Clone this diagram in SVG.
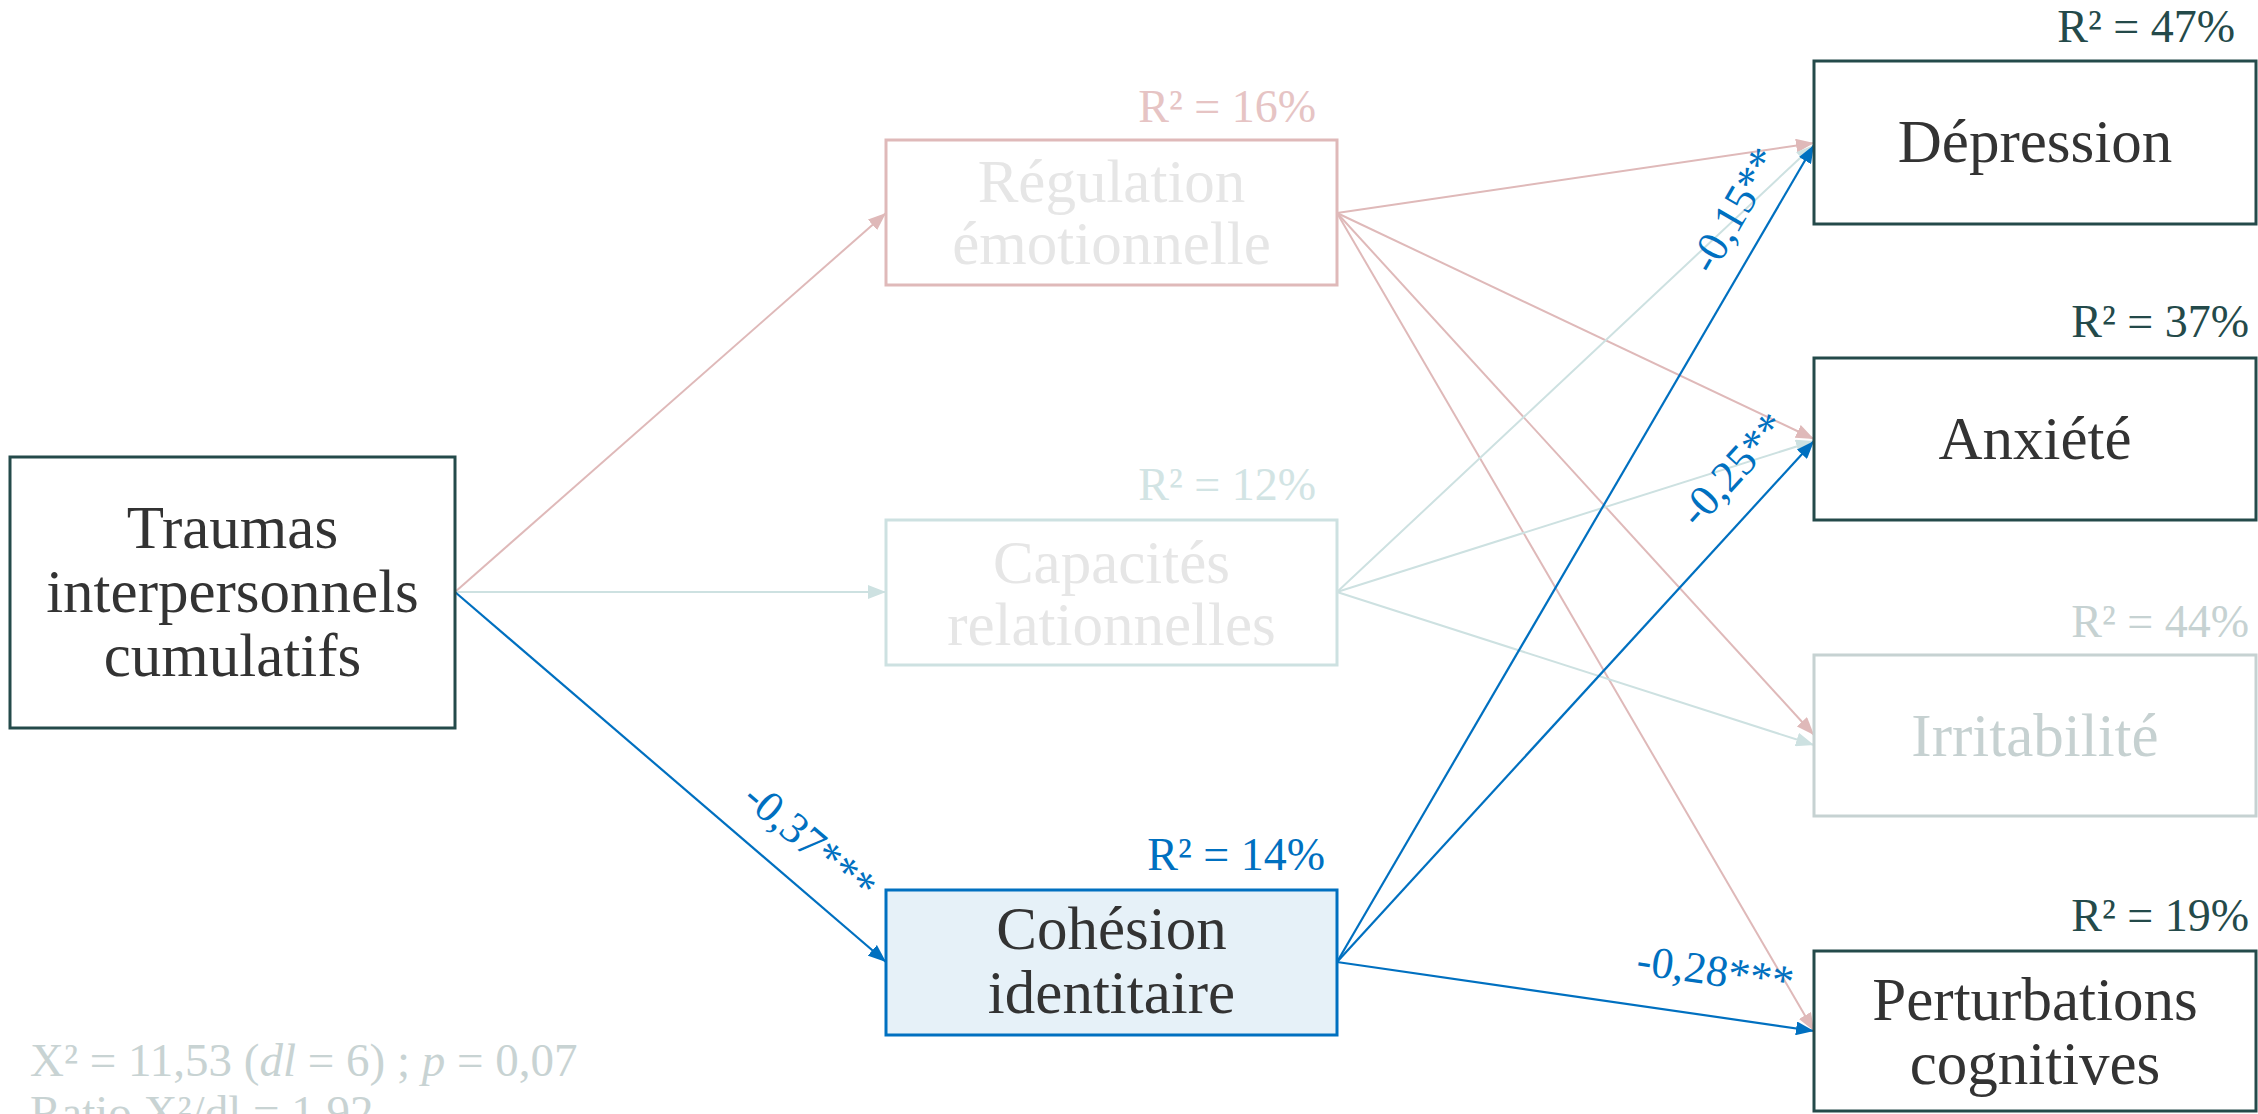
<svg xmlns="http://www.w3.org/2000/svg" width="2258" height="1114" viewBox="0 0 2258 1114">
<style>
text{font-family:"Liberation Serif","Times New Roman",serif;}
.nt{font-size:61px;fill:#333333;text-anchor:middle;}
.ft{font-size:61px;fill:#e6e6e6;text-anchor:middle;}
.it{font-size:61px;fill:#c6d1d1;text-anchor:middle;}
.r2{font-size:46px;text-anchor:end;}
.box{fill:#ffffff;stroke:#244a4a;stroke-width:3;}
.lp{stroke:#dfb9b9;stroke-width:2;fill:none;marker-end:url(#ap);}
.lt{stroke:#cde1e1;stroke-width:2;fill:none;marker-end:url(#at);}
.lb{stroke:#0070c0;stroke-width:2.2;fill:none;marker-end:url(#ab);}
.coef{font-size:44px;fill:#0070c0;text-anchor:middle;}
.fit{font-size:47px;fill:#c8d3d3;}
</style>
<defs>
<marker id="ap" markerUnits="userSpaceOnUse" markerWidth="18" markerHeight="14" refX="18" refY="7" orient="auto"><path d="M0,0 L18,7 L0,14 z" fill="#dfb9b9"/></marker>
<marker id="at" markerUnits="userSpaceOnUse" markerWidth="18" markerHeight="14" refX="18" refY="7" orient="auto"><path d="M0,0 L18,7 L0,14 z" fill="#cde1e1"/></marker>
<marker id="ab" markerUnits="userSpaceOnUse" markerWidth="18" markerHeight="14" refX="18" refY="7" orient="auto"><path d="M0,0 L18,7 L0,14 z" fill="#0070c0"/></marker>
</defs>
<rect width="2258" height="1114" fill="#ffffff"/>
<g id="connectors">
<line class="lp" x1="455" y1="592" x2="886" y2="213"/>
<line class="lt" x1="455" y1="592" x2="886" y2="592"/>
<line class="lp" x1="1337" y1="213" x2="1814" y2="143"/>
<line class="lp" x1="1337" y1="213" x2="1814" y2="439"/>
<line class="lp" x1="1337" y1="213" x2="1814" y2="735"/>
<line class="lp" x1="1337" y1="213" x2="1814" y2="1031"/>
<line class="lt" x1="1337" y1="592" x2="1814" y2="145"/>
<line class="lt" x1="1337" y1="592" x2="1814" y2="441"/>
<line class="lt" x1="1337" y1="592" x2="1814" y2="745"/>
<line class="lb" x1="455" y1="592" x2="886" y2="962"/>
<line class="lb" x1="1337" y1="962" x2="1814" y2="145"/>
<line class="lb" x1="1337" y1="962" x2="1814" y2="441"/>
<line class="lb" x1="1337" y1="962" x2="1814" y2="1031"/>
<text class="coef" transform="translate(783,873) rotate(40.6)" y="-27">-0,37***</text>
<text class="coef" transform="translate(1765,228) rotate(-59.8)" y="-21">-0,15**</text>
<text class="coef" transform="translate(1762,496) rotate(-47.6)" y="-25">-0,25**</text>
<text class="coef" transform="translate(1709,1015) rotate(8.2)" y="-30">-0,28***</text>
</g>
<g id="traumas">
<rect class="box" x="10" y="457" width="445" height="271"/>
<text class="nt" x="232.5" y="548">Traumas</text>
<text class="nt" x="232.5" y="612">interpersonnels</text>
<text class="nt" x="232.5" y="676">cumulatifs</text>
</g>
<g id="regulation">
<rect x="886" y="140" width="451" height="145" fill="#ffffff" stroke="#dfb9b9" stroke-width="3"/>
<text class="ft" x="1111.5" y="202">Régulation</text>
<text class="ft" x="1111.5" y="264">émotionnelle</text>
<text class="r2" x="1316" y="122" fill="#e6c4c4">R² = 16%</text>
</g>
<g id="capacites">
<rect x="886" y="520" width="451" height="145" fill="#ffffff" stroke="#cde1e1" stroke-width="3"/>
<text class="ft" x="1111.5" y="583">Capacités</text>
<text class="ft" x="1111.5" y="645">relationnelles</text>
<text class="r2" x="1316" y="500" fill="#d2e4e4">R² = 12%</text>
</g>
<g id="cohesion">
<rect x="886" y="890" width="451" height="145" fill="#e6f1f8" stroke="#0070c0" stroke-width="3"/>
<text class="nt" x="1111.5" y="949">Cohésion</text>
<text class="nt" x="1111.5" y="1013">identitaire</text>
<text class="r2" x="1325" y="870" fill="#0070c0">R² = 14%</text>
</g>
<g id="depression">
<rect class="box" x="1814" y="61" width="442" height="163"/>
<text class="nt" x="2035" y="162">Dépression</text>
<text class="r2" x="2235" y="42" fill="#244a4a">R² = 47%</text>
</g>
<g id="anxiete">
<rect class="box" x="1814" y="358" width="442" height="162"/>
<text class="nt" x="2035" y="459">Anxiété</text>
<text class="r2" x="2249" y="337" fill="#244a4a">R² = 37%</text>
</g>
<g id="irritabilite">
<rect x="1814" y="655" width="442" height="161" fill="#ffffff" stroke="#c6d2d2" stroke-width="3"/>
<text class="it" x="2035" y="756">Irritabilité</text>
<text class="r2" x="2249" y="637" fill="#c6d2d2">R² = 44%</text>
</g>
<g id="perturbations">
<rect class="box" x="1814" y="951" width="442" height="160"/>
<text class="nt" x="2035" y="1020">Perturbations</text>
<text class="nt" x="2035" y="1084">cognitives</text>
<text class="r2" x="2249" y="931" fill="#244a4a">R² = 19%</text>
</g>
<g id="fit">
<text class="fit" x="30" y="1076">X² = 11,53 (<tspan font-style="italic">dl</tspan> = 6) ; <tspan font-style="italic">p</tspan> = 0,07</text>
<text class="fit" x="30" y="1128">Ratio X²/dl = 1,92</text>
</g>
</svg>
